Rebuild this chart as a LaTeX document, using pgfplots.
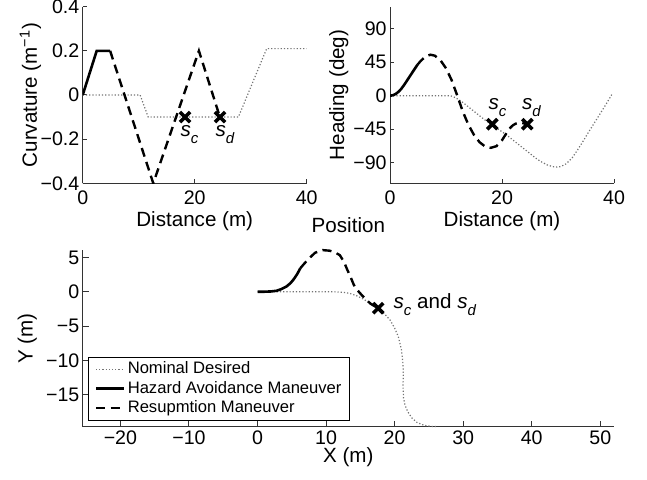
\documentclass[border=0pt]{standalone}
\usepackage{fontspec}
\setmainfont{Liberation Sans}
\usepackage{pgfplots}
\pgfplotsset{compat=1.18}
\newcommand\sub[1]{\raisebox{-3.5pt}{\fontsize{7.5}{8}\selectfont\itshape #1}}
\newcommand\tf{\fontsize{9.8}{10}\selectfont}
\newcommand\lf{\fontsize{8.3}{9.5}\selectfont}
\pgfplotsset{
  every axis title shift=0pt,
  mystyle/.style={
    scale only axis,
    axis x line*=bottom, axis y line*=left,
    axis line style={-, black!80, line width=0.5pt},
    tick align=inside,
    tick style={black!80, line width=0.5pt},
    major tick length=2pt,
    tick label style={font=\tf},
    label style={font=\fontsize{10.3}{12}\selectfont},
    xticklabel style={anchor=base, inner sep=0pt, yshift=-10.85pt},
    yticklabel style={anchor=east, inner sep=0pt, xshift=-1.5pt},
    xlabel style={at={(axis description cs:0.5,0)}, anchor=base, yshift=-21.7pt},
  },
  nom/.style={black!55, densely dotted, line width=0.6pt, no marks},
  haz/.style={black, solid, line width=1.3pt, no marks},
  res/.style={black, dash pattern=on 4.5pt off 2.8pt, line width=1.2pt, no marks},
  crs/.style={only marks, mark=x, mark size=3.6pt, mark options={black, line width=1.8pt, solid}},
}
\begin{document}
\begin{tikzpicture}
\useasboundingbox (0,0) rectangle (323.5pt,240pt);
% ---------------- Curvature ----------------
\begin{axis}[mystyle, at={(41.35pt,148.35pt)}, anchor=south west,
  width=112pt, height=88.3pt,
  xmin=0, xmax=40, ymin=-0.4, ymax=0.4,
  xtick={0,20,40}, xticklabels={0,20,40},
  ytick={-0.4,-0.2,0,0.2,0.4}, yticklabels={−0.4,−0.2,0,0.2,0.4},
  xlabel={Distance (m)}, ylabel={Curvature (m\textsuperscript{−1})},
  ylabel style={at={(axis description cs:-0.205,0.5)}, anchor=base}]
\addplot[nom] coordinates {(0,0)(10.25,0)(11.7,-0.1)(27.8,-0.1)(32.85,0.21)(40,0.21)};
\addplot[haz] coordinates {(0,0)(2.5,0.2)(4.9,0.2)};
\addplot[res] coordinates {(4.9,0.2)(12.6,-0.4)(20.75,0.2)(24.5,-0.1)};
\addplot[crs] coordinates {(18.27,-0.1)(24.52,-0.1)};
\node[anchor=base west, inner sep=0pt, font=\fontsize{10.3}{12}\selectfont] at (axis cs:17.4,-0.186) {\textit{s}\sub{c}};
\node[anchor=base west, inner sep=0pt, font=\fontsize{10.3}{12}\selectfont] at (axis cs:23.66,-0.186) {\textit{s}\sub{d}};
\end{axis}
% ---------------- Heading ----------------
\begin{axis}[mystyle, at={(195pt,148.35pt)}, anchor=south west,
  width=112pt, height=88.3pt,
  xmin=0, xmax=40, ymin=-118, ymax=120,
  xtick={0,20,40}, xticklabels={0,20,40},
  ytick={-90,-45,0,45,90}, yticklabels={−90,−45,0,45,90},
  xlabel={Distance (m)}, ylabel={Heading (deg)},
  ylabel style={at={(axis description cs:-0.205,0.5)}, anchor=base}]
\addplot[nom] coordinates {(0,0)(10.5,0)(11,-0.5)(11.5,-2)(12,-4)(13,-9)(14,-15)(15,-21)(16,-27)(17,-33)(18,-38)(19,-43.5)(20,-48.5)(21,-54)(22,-60)(23,-66)(24,-72)(25,-78)(26,-84)(27,-89)(28,-93)(29,-95.5)(29.8,-96)(30.5,-95.5)(31.5,-91.5)(32.5,-84)(33.5,-73)(34.5,-61)(35.5,-48.5)(36.5,-36.5)(37.5,-24.5)(38.5,-12.5)(39.6,1.5)};
\addplot[haz] coordinates {(0,0)(0.5,0.6)(1,2.3)(1.5,5.2)(2,9.2)(2.5,14.3)(3,20)(3.5,25.8)(4,31.5)(4.5,37.2)(4.9,41.8)};
\addplot[res] coordinates {(4.9,41.8)(5.5,47)(6,50.5)(6.5,53.2)(7.2,55.3)(8,54)(9,47.9)(10,37)(11,21.1)(12,0.4)(13,-21.3)(14,-39.1)(15,-52.9)(16,-62.7)(17,-68.5)(18,-70.2)(19,-68)(20,-60)(20.5,-54)(21,-48)(21.5,-43)(22,-39.5)(22.5,-37.5)(23,-36.5)(23.5,-36.5)(24,-37.5)(24.5,-38.5)};
\addplot[crs] coordinates {(18.27,-38.4)(24.52,-38.4)};
\node[anchor=base west, inner sep=0pt, font=\fontsize{10.3}{12}\selectfont] at (axis cs:17.55,-19.2) {\textit{s}\sub{c}};
\node[anchor=base west, inner sep=0pt, font=\fontsize{10.3}{12}\selectfont] at (axis cs:23.5,-19.2) {\textit{s}\sub{d}};
\end{axis}
% ---------------- Position ----------------
\begin{axis}[mystyle, at={(41.35pt,26.65pt)}, anchor=south west,
  width=265.65pt, height=88.35pt, clip=false,
  xmin=-25.5, xmax=52, ymin=-19.7, ymax=6.1,
  major tick length=3pt,
  xtick={-20,-10,0,10,20,30,40,50}, xticklabels={−20,−10,0,10,20,30,40,50},
  ytick={-15,-10,-5,0,5}, yticklabels={−15,−10,−5,0,5},
  xticklabel style={yshift=1.7pt},
  xlabel={X (m)}, ylabel={Y (m)},
  xlabel style={yshift=3.7pt},
  ylabel style={at={(axis description cs:-0.0941,0.5)}, anchor=base},
  title={Position},
  title style={at={(axis description cs:0.5,1)}, anchor=base, yshift=8.65pt, font=\fontsize{10.3}{12}\selectfont},
  legend style={at={(axis description cs:0.0105,0.032)}, anchor=south west, draw=black, line width=0.5pt,
    font=\lf, inner xsep=3pt, inner ysep=1.2pt, row sep=-0.2pt,
    nodes={inner sep=1.2pt},
    /tikz/every even column/.append style={column sep=2.75pt}},
  legend cell align=left,
  legend image code/.code={\draw[#1] (0pt,0pt) -- (14pt,0pt);}]
\addplot[nom] coordinates {(0,0)(11,0)(12.5,-0.08)(13.5,-0.25)(14.5,-0.6)(15.4,-1.05)(16.5,-1.7)(17.6,-2.45)(18.6,-3.3)(19.35,-4.15)(20.0,-5.3)(20.55,-6.6)(21.0,-8.5)(21.2,-10.3)(21.28,-12)(21.22,-13.6)(21.3,-15.5)(21.5,-16.5)(21.9,-17.5)(22.5,-18.4)(23.3,-19.1)(24.3,-19.5)(25.3,-19.65)(26.3,-19.7)};
\addlegendentry{Nominal Desired}
\addplot[haz] coordinates {(0,0)(1,0.01)(2,0.05)(2.8,0.15)(3.5,0.4)(4.2,0.75)(4.8,1.25)(5.3,1.85)(5.8,2.6)(6.25,3.45)};
\addlegendentry{Hazard Avoidance Maneuver}
\addplot[res] coordinates {(6.25,3.45)(6.9,4.2)(7.6,4.95)(8.4,5.7)(9.5,6.08)(10.5,6.0)(11.3,5.75)(12,5.35)(12.6,4.4)(13.1,3.2)(13.6,2.1)(14.05,1.0)(14.6,0.2)(15.2,-0.48)(15.8,-1.1)(16.5,-1.75)(17.6,-2.4)};
\addlegendentry{Resupmtion Maneuver}
\addplot[crs, forget plot] coordinates {(17.6,-2.4)};
\node[anchor=base west, inner sep=0pt, font=\fontsize{10.3}{12}\selectfont] at (axis cs:19.8,-2.43) {\textit{s}\sub{c} and \textit{s}\sub{d}};
\end{axis}
\end{tikzpicture}
\end{document}
